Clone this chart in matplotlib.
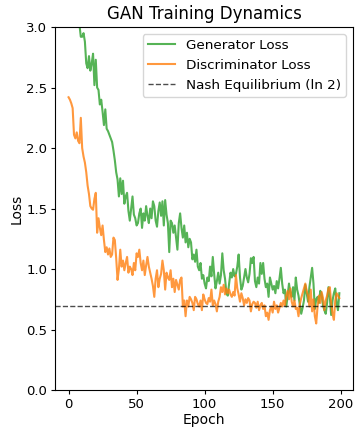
import numpy as np
import matplotlib
matplotlib.use('Agg')
import matplotlib.pyplot as plt

# 학습 손실 값 (그림에서 눈으로 읽은 근사치)
gen_loss = [
    3.38, 3.33, 3.30, 3.24, 3.20, 3.16, 3.12, 3.08, 3.02, 2.92,
    2.92, 2.95, 2.88, 2.70, 2.66, 2.76, 2.64, 2.70, 2.78, 2.52,
    2.73, 2.50, 2.48, 2.36, 2.40, 2.30, 2.19, 2.32, 2.16, 2.14,
    2.11, 2.08, 2.05, 1.98, 1.90, 1.80, 1.74, 1.60, 1.75, 1.62,
    1.73, 1.54, 1.60, 1.63, 1.48, 1.40, 1.50, 1.60, 1.45, 1.42,
    1.36, 1.38, 1.46, 1.50, 1.34, 1.46, 1.40, 1.52, 1.44, 1.38,
    1.50, 1.42, 1.56, 1.52, 1.40, 1.35, 1.48, 1.55, 1.44, 1.56,
    1.36, 1.57, 1.45, 1.38, 1.14, 1.40, 1.38, 1.30, 1.36, 1.26,
    1.16, 1.38, 1.46, 1.34, 1.26, 1.36, 1.22, 1.30, 1.18, 1.25,
    1.22, 1.08, 1.12, 1.06, 1.16, 1.02, 0.99, 1.05, 0.92, 0.95,
    0.88, 0.84, 0.93, 0.90, 1.02, 0.94, 1.10, 0.96, 0.84, 0.90,
    0.97, 0.88, 0.95, 1.13, 0.99, 0.92, 0.80, 0.78, 0.88, 0.97,
    0.93, 1.00, 0.94, 0.96, 1.02, 1.12, 0.93, 0.83, 0.86, 0.93,
    1.00, 0.93, 0.89, 0.96, 1.09, 1.05, 1.10, 0.90, 0.85, 0.93,
    0.88, 1.05, 0.96, 1.05, 0.92, 0.85, 0.88, 0.77, 0.93, 0.88,
    0.83, 0.86, 0.80, 0.90, 0.84, 0.92, 1.01, 0.88, 0.80, 0.83,
    0.69, 0.78, 0.88, 0.80, 0.77, 0.85, 0.74, 0.93, 0.83, 0.78,
    0.70, 0.63, 0.68, 0.74, 0.87, 0.80, 0.73, 0.85, 0.93, 1.01,
    0.88, 0.67, 0.75, 0.77, 0.72, 0.82, 0.79, 0.70, 0.66, 0.63,
    0.72, 0.85, 0.77, 0.62, 0.74, 0.80, 0.84, 0.72, 0.66, 0.80,
]

disc_loss = [
    2.42, 2.40, 2.37, 2.33, 2.11, 2.08, 2.13, 2.06, 2.04, 2.25,
    2.00, 1.93, 1.88, 1.80, 1.69, 1.62, 1.52, 1.50, 1.49, 1.58,
    1.63, 1.30, 1.42, 1.34, 1.28, 1.36, 1.24, 1.14, 1.18, 1.12,
    1.17, 1.10, 1.12, 1.26, 1.24, 1.09, 0.91, 1.00, 1.16, 1.02,
    1.07, 0.99, 1.05, 1.10, 0.97, 1.02, 1.00, 0.95, 1.05, 0.99,
    1.13, 1.10, 1.16, 1.05, 0.99, 1.07, 0.95, 1.03, 1.10, 1.02,
    0.97, 0.92, 0.86, 0.77, 0.92, 0.99, 0.85, 0.92, 0.96, 1.07,
    0.99, 0.83, 0.97, 0.93, 0.91, 0.99, 0.85, 0.92, 0.81, 0.91,
    0.87, 0.83, 0.91, 0.93, 0.69, 0.74, 0.61, 0.74, 0.69, 0.77,
    0.75, 0.72, 0.66, 0.77, 0.75, 0.71, 0.69, 0.74, 0.66, 0.79,
    0.75, 0.72, 0.71, 0.76, 0.73, 0.83, 0.70, 0.74, 0.71, 0.65,
    0.73, 0.77, 0.85, 0.81, 0.87, 0.79, 0.84, 0.80, 0.83, 0.79,
    0.77, 0.81, 0.78, 0.95, 0.84, 0.79, 0.73, 0.80, 0.76, 0.70,
    0.75, 0.72, 0.76, 0.74, 0.65, 0.71, 0.73, 0.72, 0.68, 0.73,
    0.66, 0.70, 0.72, 0.67, 0.70, 0.61, 0.64, 0.58, 0.66, 0.69,
    0.64, 0.73, 0.67, 0.70, 0.64, 0.68, 0.72, 0.69, 0.74, 0.70,
    0.78, 0.82, 0.75, 0.84, 0.73, 0.69, 0.74, 0.67, 0.68, 0.61,
    0.71, 0.76, 0.80, 0.84, 0.88, 0.82, 0.78, 0.69, 0.83, 0.65,
    0.75, 0.61, 0.55, 0.69, 0.78, 0.72, 0.81, 0.76, 0.66, 0.74,
    0.78, 0.84, 0.85, 0.72, 0.63, 0.58, 0.74, 0.80, 0.78, 0.76,
]

epochs = np.arange(len(gen_loss))
nash_value = np.log(2)

fig, ax = plt.subplots(figsize=(3.55, 4.3), dpi=100)
fig.subplots_adjust(left=0.155, right=0.994, top=0.937, bottom=0.093)

ax.plot(epochs, gen_loss, color='tab:green', alpha=0.8, lw=1.5, label='Generator Loss')
ax.plot(epochs, disc_loss, color='tab:orange', alpha=0.8, lw=1.5, label='Discriminator Loss')
ax.axhline(nash_value, color='black', linestyle='--', lw=1, alpha=0.7, label='Nash Equilibrium (ln 2)')

ax.set_ylim(0, 3)
ax.set_title('GAN Training Dynamics', fontsize=12)
ax.set_xlabel('Epoch', fontsize=10, labelpad=1.5)
ax.set_ylabel('Loss', fontsize=10, labelpad=2)
ax.tick_params(labelsize=9.5, length=3, pad=2.5)
ax.legend(loc='upper right', fontsize=9.7)

fig.savefig('out.png', dpi=100)
